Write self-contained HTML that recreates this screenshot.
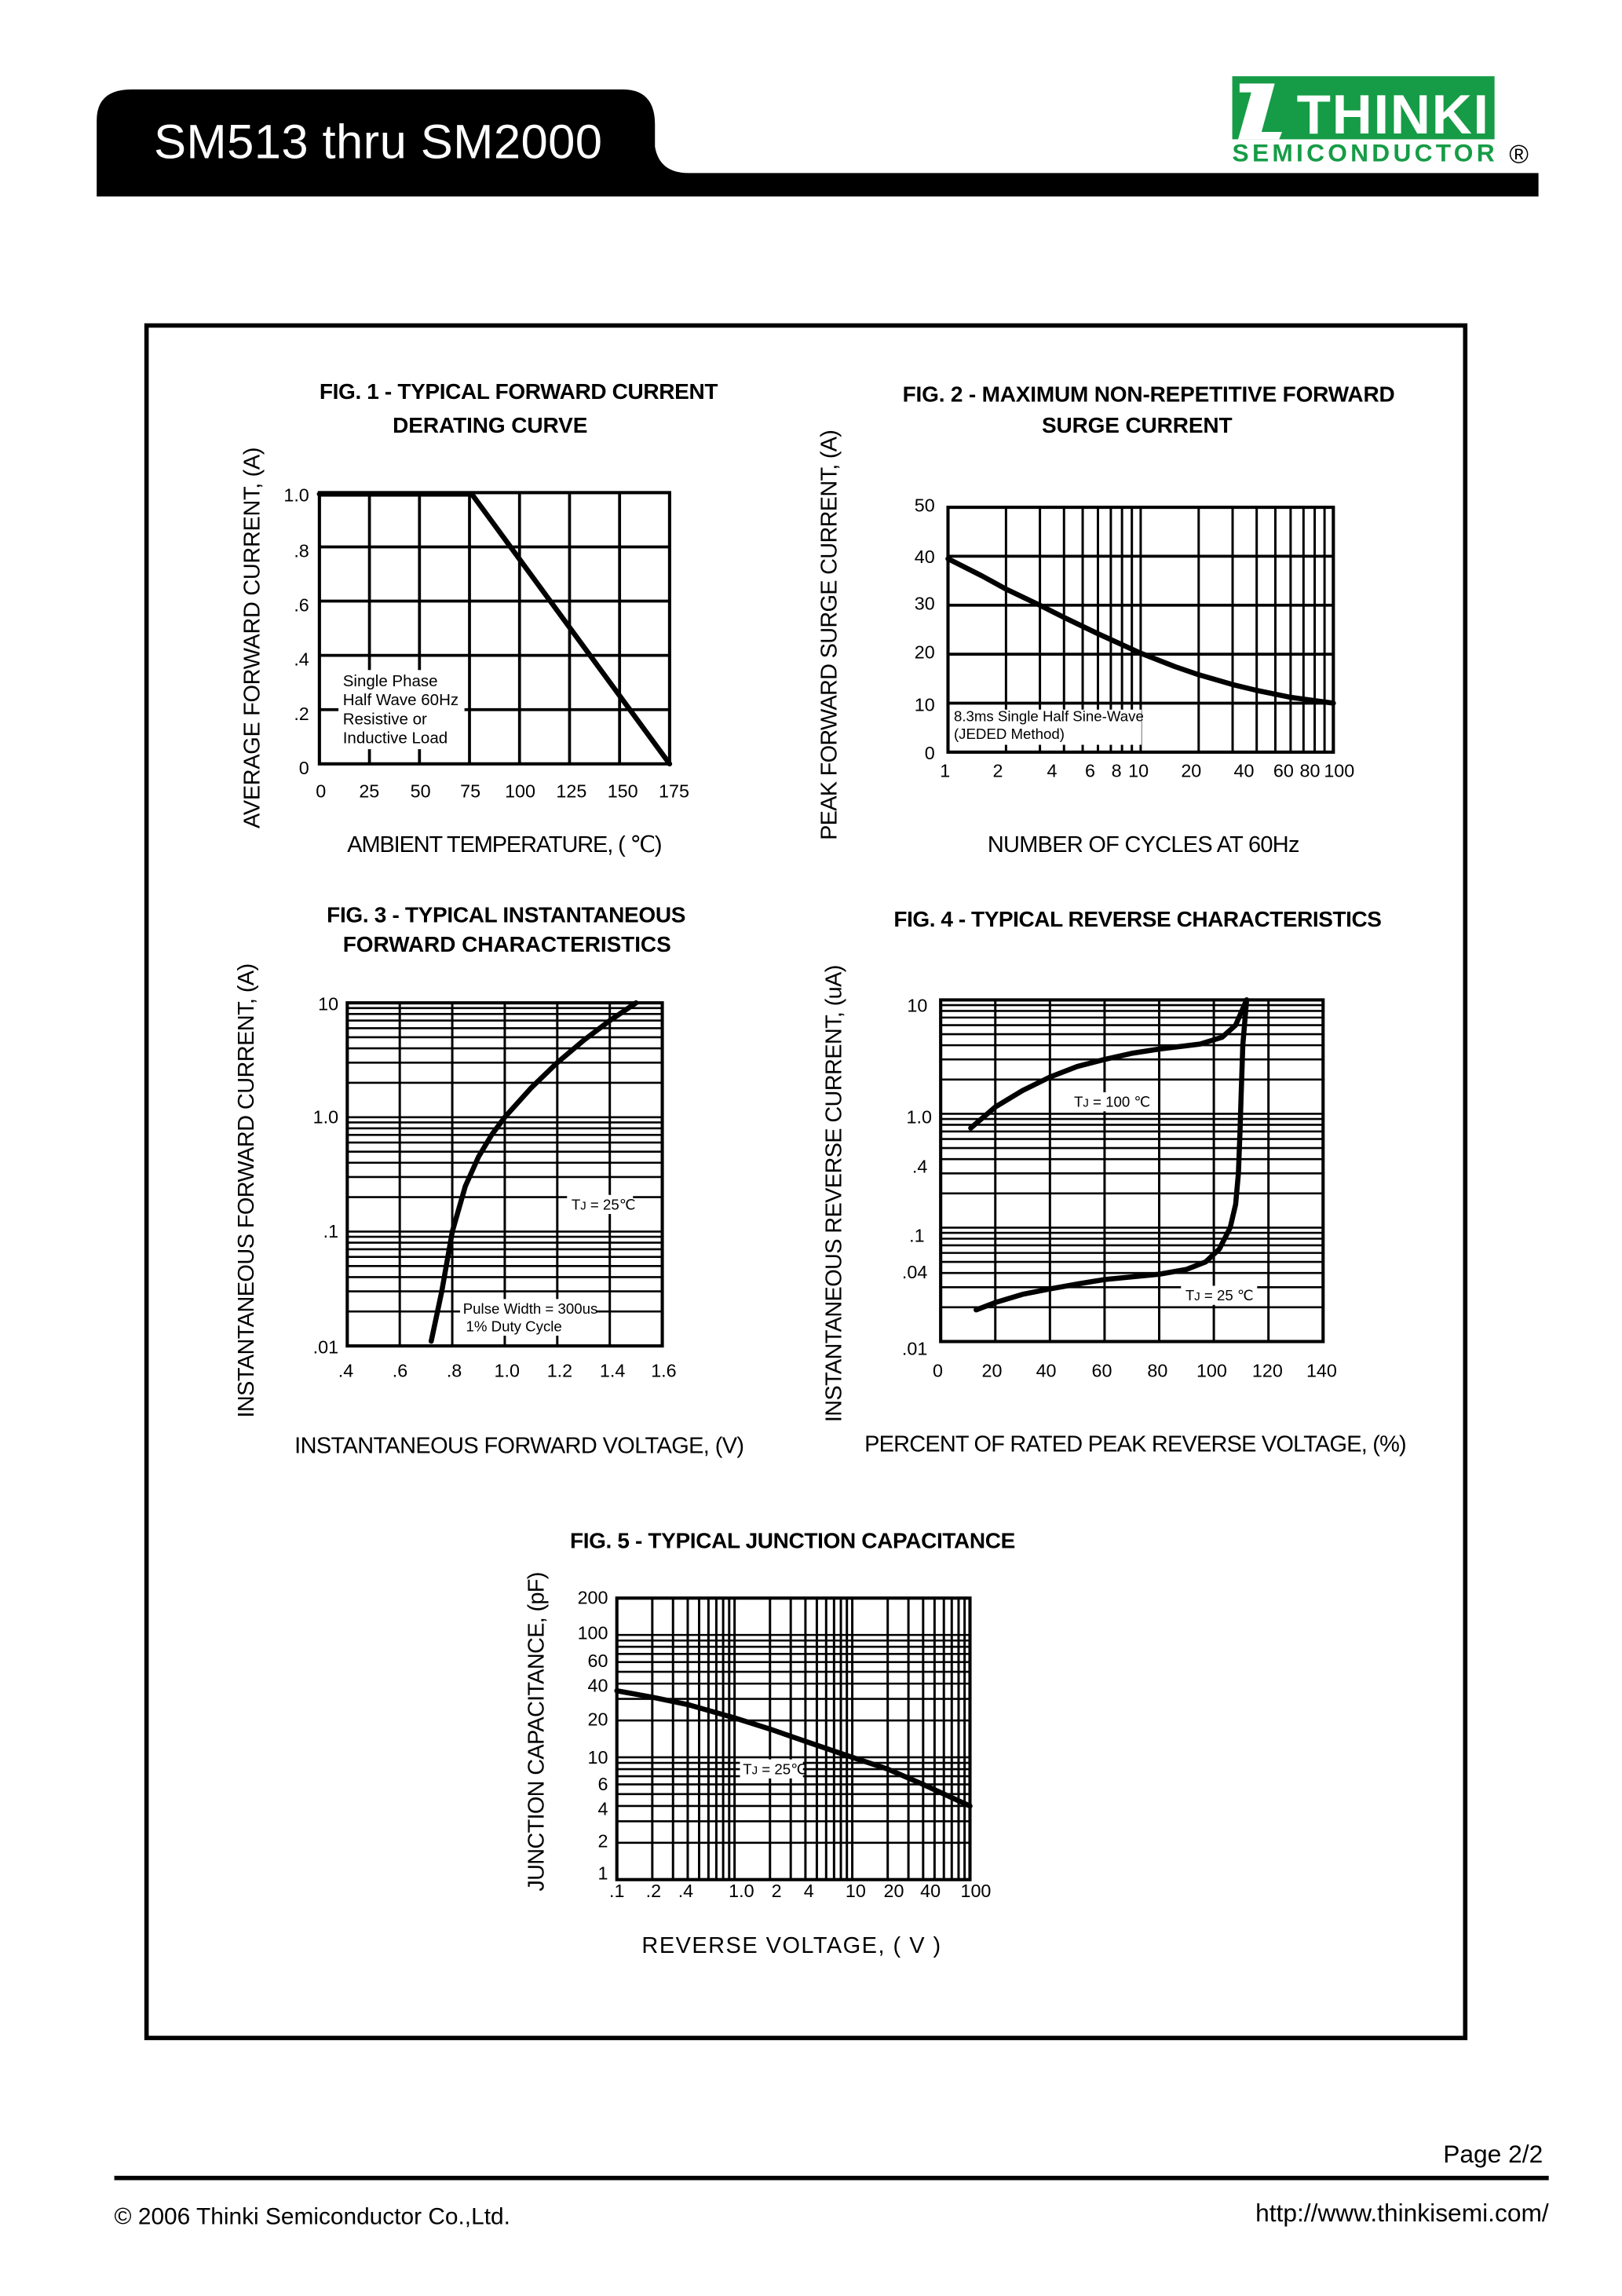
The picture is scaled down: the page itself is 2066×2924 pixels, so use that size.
<!DOCTYPE html>
<html><head><meta charset="utf-8"><style>
html,body{margin:0;padding:0;background:#fff;width:2066px;height:2924px;overflow:hidden}
svg{display:block}
text{font-family:"Liberation Sans",sans-serif;fill:#000}
.t{font-weight:bold;font-size:15px}
.ax{font-size:15.5px}
.tk{font-size:12.5px}
.sm{font-size:10px}
</style></head><body>
<svg id="s" width="2066" height="2924" viewBox="0 0 1107 1566" preserveAspectRatio="none" xmlns="http://www.w3.org/2000/svg">
<!-- header -->
<path d="M66,134 L66,82 Q66,61 90,61 L425,61 Q447,61 447,85 L447,100 Q450,118 470,118 L1050,118 L1050,134 Z" fill="#000"/>
<text x="105" y="108" style="font-size:33px;fill:#fff" textLength="306">SM513 thru SM2000</text>
<rect x="841" y="52" width="179" height="43" fill="#169c46"/>
<path d="M846,57 L870,57 L861,90 L875,90 L873,95 L845,95 L854,63 L846,63 Z" fill="#fff"/>
<text x="885" y="91" style="font-size:38px;font-weight:bold;fill:#fff" textLength="131">THINKI</text>
<text x="841" y="110" style="font-size:17px;font-weight:bold;fill:#169c46" textLength="179">SEMICONDUCTOR</text>
<text x="1030" y="111" style="font-size:18px">®</text>
<!-- outer box -->
<rect x="100" y="222" width="900" height="1168" fill="none" stroke="#000" stroke-width="3"/>
<g id="grids"></g>
<g id="curves" fill="none" stroke="#000" stroke-width="3.5" stroke-linejoin="round" stroke-linecap="round"></g>
<!-- Fig 1 -->
<text class="t" x="218" y="272" textLength="272">FIG. 1 - TYPICAL FORWARD CURRENT</text>
<text class="t" x="268" y="295" textLength="133">DERATING CURVE</text>
<g class="tk" text-anchor="end"><text x="211" y="342">1.0</text><text x="211" y="380">.8</text><text x="211" y="417">.6</text><text x="211" y="454">.4</text><text x="211" y="491">.2</text><text x="211" y="528">0</text></g>
<g class="tk" text-anchor="middle"><text x="219" y="544">0</text><text x="252" y="544">25</text><text x="287" y="544">50</text><text x="321" y="544">75</text><text x="355" y="544">100</text><text x="390" y="544">125</text><text x="425" y="544">150</text><text x="460" y="544">175</text></g>
<rect x="231" y="457" width="86" height="54" fill="#fff"/>
<g class="sm" style="font-size:11px"><text x="234" y="468">Single Phase</text><text x="234" y="481">Half Wave 60Hz</text><text x="234" y="494">Resistive or</text><text x="234" y="507">Inductive Load</text></g>
<text class="ax" x="237" y="581" textLength="215">AMBIENT TEMPERATURE, ( ℃)</text>
<text class="ax" transform="translate(177,565) rotate(-90)" textLength="260">AVERAGE  FORWARD CURRENT, (A)</text>
<!-- Fig 2 -->
<text class="t" x="616" y="274" textLength="336">FIG. 2 - MAXIMUM NON-REPETITIVE  FORWARD</text>
<text class="t" x="711" y="295" textLength="130">SURGE CURRENT</text>
<g class="tk" text-anchor="end"><text x="638" y="349">50</text><text x="638" y="384">40</text><text x="638" y="416">30</text><text x="638" y="449">20</text><text x="638" y="485">10</text><text x="638" y="518">0</text></g>
<g class="tk" text-anchor="middle"><text x="645" y="530">1</text><text x="681" y="530">2</text><text x="718" y="530">4</text><text x="744" y="530">6</text><text x="762" y="530">8</text><text x="777" y="530">10</text><text x="813" y="530">20</text><text x="849" y="530">40</text><text x="876" y="530">60</text><text x="894" y="530">80</text><text x="914" y="530">100</text></g>
<rect x="649" y="484" width="130" height="24" fill="#fff"/>
<g class="sm"><text x="651" y="492">8.3ms Single Half Sine-Wave</text><text x="651" y="504">(JEDED Method)</text></g>
<text class="ax" x="674" y="581" textLength="213">NUMBER OF CYCLES AT 60Hz</text>
<text class="ax" transform="translate(571,573) rotate(-90)" textLength="280">PEAK FORWARD SURGE CURRENT, (A)</text>
<!-- Fig 3 -->
<text class="t" x="223" y="629" textLength="245">FIG. 3 - TYPICAL INSTANTANEOUS</text>
<text class="t" x="234" y="649" textLength="224">FORWARD CHARACTERISTICS</text>
<g class="tk" text-anchor="end"><text x="231" y="689">10</text><text x="231" y="766">1.0</text><text x="231" y="844">.1</text><text x="231" y="923">.01</text></g>
<g class="tk" text-anchor="middle"><text x="236" y="939">.4</text><text x="273" y="939">.6</text><text x="310" y="939">.8</text><text x="346" y="939">1.0</text><text x="382" y="939">1.2</text><text x="418" y="939">1.4</text><text x="453" y="939">1.6</text></g>
<rect x="387" y="815" width="45" height="13" fill="#fff"/>
<text class="sm" x="390" y="825">T<tspan style="font-size:8px">J</tspan> = 25℃</text>
<rect x="314" y="886" width="93" height="25" fill="#fff"/>
<g class="sm"><text x="316" y="896">Pulse Width = 300us</text><text x="318" y="908">1% Duty Cycle</text></g>
<text class="ax" x="201" y="991" textLength="307">INSTANTANEOUS FORWARD VOLTAGE, (V)</text>
<text class="ax" transform="translate(173,967) rotate(-90)" textLength="310">INSTANTANEOUS FORWARD CURRENT, (A)</text>
<!-- Fig 4 -->
<text class="t" x="610" y="632" textLength="333">FIG. 4 - TYPICAL REVERSE CHARACTERISTICS</text>
<g class="tk" text-anchor="end"><text x="633" y="690">10</text><text x="636" y="766">1.0</text><text x="633" y="800">.4</text><text x="631" y="847">.1</text><text x="633" y="872">.04</text><text x="633" y="924">.01</text></g>
<g class="tk" text-anchor="middle"><text x="640" y="939">0</text><text x="677" y="939">20</text><text x="714" y="939">40</text><text x="752" y="939">60</text><text x="790" y="939">80</text><text x="827" y="939">100</text><text x="865" y="939">120</text><text x="902" y="939">140</text></g>
<rect x="730" y="745" width="58" height="13" fill="#fff"/>
<text class="sm" x="733" y="755">T<tspan style="font-size:8px">J</tspan> = 100  ℃</text>
<rect x="806" y="877" width="52" height="13" fill="#fff"/>
<text class="sm" x="809" y="887">T<tspan style="font-size:8px">J</tspan> = 25 ℃</text>
<text class="ax" x="590" y="990" textLength="370">PERCENT OF RATED PEAK REVERSE VOLTAGE, (%)</text>
<text class="ax" transform="translate(574,970) rotate(-90)" textLength="312">INSTANTANEOUS REVERSE CURRENT, (uA)</text>
<!-- Fig 5 -->
<text class="t" x="389" y="1056" textLength="304">FIG. 5 - TYPICAL JUNCTION CAPACITANCE</text>
<g class="tk" text-anchor="end"><text x="415" y="1094">200</text><text x="415" y="1118">100</text><text x="415" y="1137">60</text><text x="415" y="1154">40</text><text x="415" y="1177">20</text><text x="415" y="1203">10</text><text x="415" y="1221">6</text><text x="415" y="1238">4</text><text x="415" y="1260">2</text><text x="415" y="1282">1</text></g>
<g class="tk" text-anchor="middle"><text x="421" y="1294">.1</text><text x="446" y="1294">.2</text><text x="468" y="1294">.4</text><text x="506" y="1294">1.0</text><text x="530" y="1294">2</text><text x="552" y="1294">4</text><text x="584" y="1294">10</text><text x="610" y="1294">20</text><text x="635" y="1294">40</text><text x="666" y="1294">100</text></g>
<rect x="505" y="1200" width="43" height="13" fill="#fff"/>
<text class="sm" x="507" y="1210">T<tspan style="font-size:8px">J</tspan> = 25℃</text>
<text class="ax" x="438" y="1332" textLength="204">REVERSE VOLTAGE, ( V )</text>
<text class="ax" transform="translate(371,1290) rotate(-90)" textLength="218">JUNCTION CAPACITANCE, (pF)</text>
<!-- footer -->
<text x="1053" y="1475" text-anchor="end" style="font-size:17px">Page 2/2</text>
<rect x="78" y="1484" width="979" height="3" fill="#000"/>
<text x="78" y="1517" style="font-size:16px">©  2006  Thinki  Semiconductor  Co.,Ltd.</text>
<text x="1057" y="1515" text-anchor="end" style="font-size:17px">http://www.thinkisemi.com/</text>
</svg>
<script>
var NS="http://www.w3.org/2000/svg",G=document.getElementById('grids'),C=document.getElementById('curves');
function ln(x1,y1,x2,y2,w){var l=document.createElementNS(NS,'line');l.setAttribute('x1',x1);l.setAttribute('y1',y1);l.setAttribute('x2',x2);l.setAttribute('y2',y2);l.setAttribute('stroke','#000');l.setAttribute('stroke-width',w||1.6);G.appendChild(l);}
function rect(x0,y0,x1,y1){var r=document.createElementNS(NS,'rect');r.setAttribute('x',x0);r.setAttribute('y',y0);r.setAttribute('width',x1-x0);r.setAttribute('height',y1-y0);r.setAttribute('fill','none');r.setAttribute('stroke','#000');r.setAttribute('stroke-width',2.2);G.appendChild(r);}
function poly(pts){var p=document.createElementNS(NS,'polyline');p.setAttribute('points',pts.map(function(a){return a[0].toFixed(1)+','+a[1].toFixed(1)}).join(' '));C.appendChild(p);}
function lg(v){return Math.log(v)/Math.LN10;}
function logVals(a,b){var r=[];for(var d=a;d<b;d*=10)for(var k=1;k<10;k++){var v=k*d;if(v<=b*1.0001)r.push(v);}r.push(b);return r;}
var f1={x0:218,x1:457,y0:336,y1:521};
for(var i=1;i<7;i++)ln(f1.x0+i*(f1.x1-f1.x0)/7,f1.y0,f1.x0+i*(f1.x1-f1.x0)/7,f1.y1,2);
for(i=1;i<5;i++)ln(f1.x0,f1.y0+i*37,f1.x1,f1.y0+i*37,2);
rect(f1.x0,f1.y0,f1.x1,f1.y1);
poly([[218,337],[322,337],[457,521]]);
var f2={x0:647,x1:910,y0:346,y1:513};
logVals(1,100).forEach(function(v){var x=f2.x0+lg(v)*(f2.x1-f2.x0)/2;ln(x,f2.y0,x,f2.y1,1.6);});
for(i=1;i<5;i++)ln(f2.x0,f2.y0+i*(f2.y1-f2.y0)/5,f2.x1,f2.y0+i*(f2.y1-f2.y0)/5,2);
rect(f2.x0,f2.y0,f2.x1,f2.y1);
function m2(n,v){return [f2.x0+lg(n)*(f2.x1-f2.x0)/2,f2.y1-v/50*(f2.y1-f2.y0)];}
poly([[1,39.5],[1.5,36],[2,33.3],[3,30],[4,27.5],[6,24.2],[10,20.2],[15,17.5],[20,15.8],[30,13.8],[40,12.6],[60,11.2],[100,10]].map(function(a){return m2(a[0],a[1]);}));
var f3={x0:237,x1:452,y0:684,y1:918};
for(i=1;i<6;i++)ln(f3.x0+i*(f3.x1-f3.x0)/6,f3.y0,f3.x0+i*(f3.x1-f3.x0)/6,f3.y1,1.6);
logVals(0.01,10).forEach(function(v){var y=f3.y1-(lg(v)+2)*(f3.y1-f3.y0)/3;ln(f3.x0,y,f3.x1,y,1.4);});
rect(f3.x0,f3.y0,f3.x1,f3.y1);
function m3(v,c){return [f3.x0+(v-0.4)/1.2*(f3.x1-f3.x0),f3.y1-(lg(c)+2)*(f3.y1-f3.y0)/3];}
poly([[0.72,0.011],[0.76,0.03],[0.8,0.1],[0.85,0.25],[0.9,0.45],[0.95,0.7],[1.0,1.0],[1.1,1.8],[1.2,3.0],[1.3,4.7],[1.4,7],[1.5,10]].map(function(a){return m3(a[0],a[1]);}));
var f4={x0:642,x1:903,y0:682,y1:915};
for(i=1;i<7;i++)ln(f4.x0+i*(f4.x1-f4.x0)/7,f4.y0,f4.x0+i*(f4.x1-f4.x0)/7,f4.y1,1.6);
logVals(0.01,10).forEach(function(v){var y=f4.y1-(lg(v)+2)*(f4.y1-f4.y0)/3;ln(f4.x0,y,f4.x1,y,1.4);});
rect(f4.x0,f4.y0,f4.x1,f4.y1);
function m4(p,c){return [f4.x0+p/140*(f4.x1-f4.x0),f4.y1-(lg(c)+2)*(f4.y1-f4.y0)/3];}
poly([[11,0.75],[20,1.15],[30,1.6],[40,2.1],[50,2.6],[60,3.0],[70,3.4],[80,3.7],[95,4.1],[103,4.7],[108,6],[112,10]].map(function(a){return m4(a[0],a[1]);}));
poly([[13,0.019],[20,0.022],[30,0.026],[40,0.029],[50,0.032],[60,0.035],[70,0.037],[80,0.039],[90,0.043],[97,0.05],[102,0.065],[106,0.1],[108,0.16],[109,0.3],[109.6,0.7],[110,1.5],[110.6,4],[112,10]].map(function(a){return m4(a[0],a[1]);}));
var f5={x0:421,x1:662,y0:1090,y1:1282};
logVals(0.1,100).forEach(function(v){var x=f5.x0+(lg(v)+1)*(f5.x1-f5.x0)/3;ln(x,f5.y0,x,f5.y1,1.6);});
var yv=logVals(1,100);yv.push(200);
var dec=(f5.y1-f5.y0)/lg(200);
yv.forEach(function(v){var y=f5.y1-lg(v)*dec;ln(f5.x0,y,f5.x1,y,1.4);});
rect(f5.x0,f5.y0,f5.x1,f5.y1);
function m5(v,c){return [f5.x0+(lg(v)+1)*(f5.x1-f5.x0)/3,f5.y1-lg(c)*dec];}
poly([[0.1,35],[0.2,31],[0.4,27],[1,21],[2,17],[4,13.5],[10,10],[20,8],[40,6],[100,4]].map(function(a){return m5(a[0],a[1]);}));
</script>
</body></html>
